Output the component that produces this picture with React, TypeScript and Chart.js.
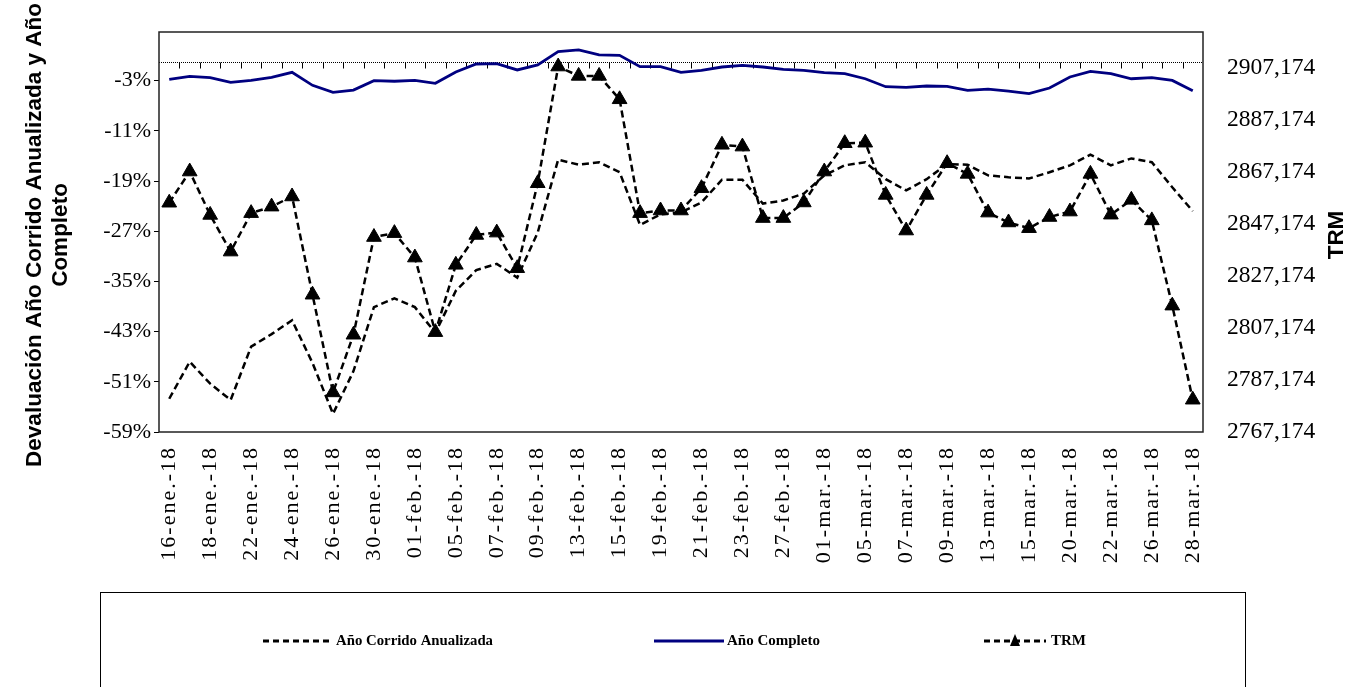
import React, { useEffect, useRef } from 'react';
import { Chart, registerables } from 'chart.js';

Chart.register(...registerables);

const CATEGORIES: string[] = [
  '16-ene.-18', '17-ene.-18', '18-ene.-18', '19-ene.-18', '22-ene.-18', '23-ene.-18', '24-ene.-18', '25-ene.-18',
  '26-ene.-18', '29-ene.-18', '30-ene.-18', '31-ene.-18', '01-feb.-18', '02-feb.-18', '05-feb.-18', '06-feb.-18',
  '07-feb.-18', '08-feb.-18', '09-feb.-18', '12-feb.-18', '13-feb.-18', '14-feb.-18', '15-feb.-18', '16-feb.-18',
  '19-feb.-18', '20-feb.-18', '21-feb.-18', '22-feb.-18', '23-feb.-18', '26-feb.-18', '27-feb.-18', '28-feb.-18',
  '01-mar.-18', '02-mar.-18', '05-mar.-18', '06-mar.-18', '07-mar.-18', '08-mar.-18', '09-mar.-18', '12-mar.-18',
  '13-mar.-18', '14-mar.-18', '15-mar.-18', '16-mar.-18', '20-mar.-18', '21-mar.-18', '22-mar.-18', '23-mar.-18',
  '26-mar.-18', '27-mar.-18', '28-mar.-18',
];

// Devaluación año corrido anualizada (%)
const ANO_CORRIDO: number[] = [
  -53.7, -47.8, -51.3, -53.9, -45.4, -43.4, -41.2, -48.0, -56.1, -49.3, -39.1, -37.7, -39.1, -43.2, -36.5, -33.2,
  -32.2, -34.4, -27.2, -15.6, -16.4, -16.0, -17.6, -26.0, -24.3, -24.0, -22.4, -18.8, -18.8, -22.6, -22.1, -21.0,
  -18.1, -16.5, -16.0, -18.7, -20.5, -18.7, -16.3, -16.4, -18.1, -18.4, -18.6, -17.6, -16.5, -14.8, -16.5, -15.4,
  -16.0, -20.0, -23.8,
];

// Devaluación año completo (%)
const ANO_COMPLETO: number[] = [
  -2.8, -2.32, -2.53, -3.27, -2.96, -2.48, -1.68, -3.75, -4.87, -4.5, -3.0, -3.1, -2.96, -3.43, -1.62, -0.35,
  -0.29, -1.3, -0.5, 1.62, 1.89, 1.09, 1.04, -0.77, -0.77, -1.68, -1.36, -0.83, -0.56, -0.83, -1.2, -1.36,
  -1.73, -1.89, -2.7, -3.97, -4.07, -3.86, -3.9, -4.55, -4.34, -4.66, -5.08, -4.18, -2.42, -1.52, -1.89, -2.7,
  -2.53, -2.96, -4.6,
];

// TRM (pesos por dólar)
const TRM: number[] = [
  2855.4, 2867.4, 2850.7, 2836.6, 2851.4, 2853.9, 2857.8, 2820.0, 2782.4, 2804.6, 2842.2, 2843.7, 2834.3, 2805.6,
  2831.5, 2843.0, 2843.9, 2830.2, 2862.9, 2907.8, 2904.2, 2904.2, 2895.2, 2851.4, 2852.4, 2852.4, 2861.0, 2877.7,
  2877.0, 2849.5, 2849.5, 2855.5, 2867.4, 2878.3, 2878.5, 2858.4, 2844.7, 2858.4, 2870.6, 2866.5, 2851.6, 2847.8,
  2845.6, 2849.9, 2852.0, 2866.5, 2850.8, 2856.5, 2848.6, 2815.8, 2779.6,
];

const LEFT_TICKS: number[] = [-59, -51, -43, -35, -27, -19, -11, -3];
const RIGHT_TICKS: number[] = [2767.174, 2787.174, 2807.174, 2827.174, 2847.174, 2867.174, 2887.174, 2907.174];
const LEFT_MIN = -59;
const LEFT_MAX = 4.75;
const RIGHT_MIN = 2767.174;
const RIGHT_MAX = 2921.1;

const LEFT_TITLE: string[] = ['Devaluación Año Corrido Anualizada y Año', 'Completo'];
const RIGHT_TITLE = 'TRM';
const LEGEND_LABELS: string[] = ['Año Corrido Anualizada', 'Año Completo', 'TRM'];

const NAVY = '#000080';

const decorPlugin = {
  id: 'decor',
  beforeDatasetsDraw(chart: any) {
    const { ctx, chartArea, scales } = chart;
    const { left, right } = chartArea;
    const y0 = Math.round(scales.y.getPixelForValue(0)) + 0.5;
    ctx.save();
    ctx.strokeStyle = '#000';
    ctx.lineWidth = 1;
    ctx.setLineDash([1, 1]);
    ctx.beginPath();
    ctx.moveTo(left, y0);
    ctx.lineTo(right, y0);
    ctx.stroke();
    ctx.setLineDash([]);
    const n = CATEGORIES.length;
    const w = (right - left) / n;
    ctx.beginPath();
    for (let k = 1; k < n; k++) {
      const x = Math.round(left + k * w) + 0.5;
      ctx.moveTo(x, y0);
      ctx.lineTo(x, y0 + 6);
    }
    ctx.stroke();
    ctx.restore();
  },
  afterDatasetsDraw(chart: any) {
    (chart.ctx as any).letterSpacing = '2px';
  },
  afterDraw(chart: any) {
    const { ctx, chartArea } = chart;
    (ctx as any).letterSpacing = '0px';
    const { left, right, top, bottom } = chartArea;
    ctx.save();
    // plot border
    ctx.strokeStyle = '#222';
    ctx.lineWidth = 1.5;
    ctx.setLineDash([]);
    ctx.strokeRect(left, top, right - left, bottom - top);

    // axis titles
    ctx.fillStyle = '#000';
    ctx.font = 'bold 22.5px "Liberation Sans", Arial, sans-serif';
    ctx.textAlign = 'center';
    ctx.textBaseline = 'middle';
    ctx.save();
    ctx.translate(35, (top + bottom) / 2 + 3);
    ctx.rotate(-Math.PI / 2);
    LEFT_TITLE.forEach((line, i) => ctx.fillText(line, 0, i * 26));
    ctx.restore();
    ctx.save();
    ctx.translate(1337, (top + bottom) / 2 + 3);
    ctx.rotate(-Math.PI / 2);
    ctx.fillText(RIGHT_TITLE, 0, 0);
    ctx.restore();

    // legend box
    ctx.strokeStyle = '#000';
    ctx.lineWidth = 1;
    ctx.strokeRect(100.5, 592.5, 1145, 130);
    const ly = 641;
    ctx.font = 'bold 15px "Liberation Serif", "Times New Roman", serif';
    ctx.textAlign = 'left';
    ctx.textBaseline = 'middle';
    // item 1
    ctx.lineWidth = 3;
    ctx.setLineDash([6, 4]);
    ctx.beginPath();
    ctx.moveTo(263, ly);
    ctx.lineTo(329, ly);
    ctx.stroke();
    ctx.fillText(LEGEND_LABELS[0], 336, ly, 157);
    // item 2
    ctx.setLineDash([]);
    ctx.strokeStyle = NAVY;
    ctx.beginPath();
    ctx.moveTo(654, ly);
    ctx.lineTo(724, ly);
    ctx.stroke();
    ctx.fillText(LEGEND_LABELS[1], 727, ly, 97);
    // item 3
    ctx.strokeStyle = '#000';
    ctx.setLineDash([6, 4]);
    ctx.beginPath();
    ctx.moveTo(984, ly);
    ctx.lineTo(1046, ly);
    ctx.stroke();
    ctx.setLineDash([]);
    ctx.beginPath();
    ctx.moveTo(1015, ly - 7);
    ctx.lineTo(1020, ly + 5);
    ctx.lineTo(1010, ly + 5);
    ctx.closePath();
    ctx.fill();
    ctx.fillText(LEGEND_LABELS[2], 1051, ly, 40);
    ctx.restore();
  },
};

export default function App() {
  const canvasRef = useRef<HTMLCanvasElement | null>(null);

  useEffect(() => {
    const canvas = canvasRef.current;
    if (!canvas) return;
    const chart = new Chart(canvas, {
      type: 'line',
      data: {
        labels: CATEGORIES,
        datasets: [
          {
            label: LEGEND_LABELS[0],
            data: ANO_CORRIDO,
            yAxisID: 'y',
            borderColor: '#000',
            borderWidth: 2.5,
            borderDash: [7, 4],
            pointRadius: 0,
            tension: 0,
            fill: false,
          },
          {
            label: LEGEND_LABELS[1],
            data: ANO_COMPLETO,
            yAxisID: 'y',
            borderColor: NAVY,
            borderWidth: 2.8,
            pointRadius: 0,
            tension: 0,
            fill: false,
          },
          {
            label: LEGEND_LABELS[2],
            data: TRM,
            yAxisID: 'y1',
            borderColor: '#000',
            backgroundColor: '#000',
            borderWidth: 2.5,
            borderDash: [7, 4],
            pointStyle: 'triangle',
            pointRadius: 8.5,
            pointBorderWidth: 1,
            pointBackgroundColor: '#000',
            pointBorderColor: '#000',
            tension: 0,
            fill: false,
          },
        ],
      },
      options: {
        animation: false,
        responsive: false,
        maintainAspectRatio: false,
        layout: { padding: { top: 32, left: 0, right: 0, bottom: 0 } },
        plugins: {
          legend: { display: false },
          tooltip: { enabled: false },
          title: { display: false },
        },
        scales: {
          x: {
            type: 'category',
            offset: true,
            grid: { display: false, drawTicks: false },
            border: { display: false },
            ticks: {
              autoSkip: false,
              maxRotation: 90,
              minRotation: 90,
              padding: 14,
              color: '#000',
              z: 1,
              font: { family: '"Liberation Serif", "Times New Roman", serif', size: 22 },
              callback: (_v: any, idx: number) => (idx % 2 === 0 ? CATEGORIES[idx] : ''),
            },
            afterFit: (s: any) => {
              s.height = 255;
            },
          },
          y: {
            type: 'linear',
            position: 'left',
            min: LEFT_MIN,
            max: LEFT_MAX,
            grid: { display: true, drawOnChartArea: false, drawTicks: true, tickLength: 5, color: '#000' },
            border: { display: false },
            ticks: {
              padding: 3,
              color: '#000',
              font: { family: '"Liberation Serif", "Times New Roman", serif', size: 22 },
              callback: (v: any) => `${v}%`,
            },
            afterBuildTicks: (s: any) => {
              s.ticks = LEFT_TICKS.map((v) => ({ value: v }));
            },
            afterFit: (s: any) => {
              s.width = 159;
            },
          },
          y1: {
            type: 'linear',
            position: 'right',
            min: RIGHT_MIN,
            max: RIGHT_MAX,
            grid: { display: false, drawTicks: true, tickLength: 20 },
            border: { display: false },
            ticks: {
              padding: 4,
              color: '#000',
              font: { family: '"Liberation Serif", "Times New Roman", serif', size: 23.5 },
              callback: (v: any) => Number(v).toFixed(3).replace('.', ','),
            },
            afterBuildTicks: (s: any) => {
              s.ticks = RIGHT_TICKS.map((v) => ({ value: v }));
            },
            afterFit: (s: any) => {
              s.width = 148;
            },
          },
        },
      } as any,
      plugins: [decorPlugin as any],
    });
    return () => {
      chart.destroy();
    };
  }, []);

  return (
    <div style={{ position: 'absolute', left: 0, top: 0, width: 1351, height: 687, background: '#fff' }}>
      <canvas ref={canvasRef} width={1351} height={687} style={{ display: 'block', width: 1351, height: 687 }} />
    </div>
  );
}
